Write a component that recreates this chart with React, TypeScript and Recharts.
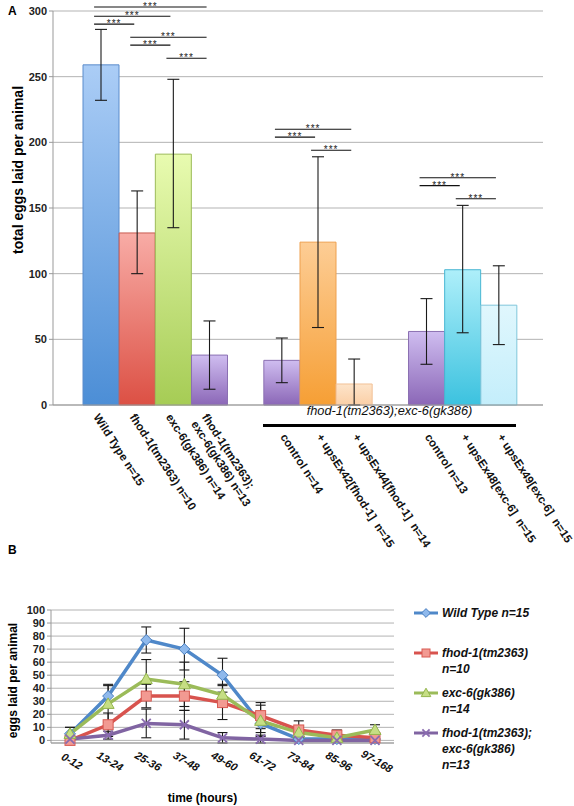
import React from "react";
import {
  Bar,
  BarChart,
  CartesianGrid,
  Cell,
  ErrorBar,
  Legend,
  Line,
  LineChart,
  ReferenceLine,
  XAxis,
  YAxis,
} from "recharts";

const FONT = "Arial, 'Liberation Sans', Helvetica, sans-serif";

// panel A: total eggs laid per animal (blank entries are the gaps between groups)
const strains = [
  "Wild Type n=15",
  "fhod-1(tm2363) n=10",
  "exc-6(gk386) n=14",
  "fhod-1(tm2363);\nexc-6(gk386) n=13",
  " ",
  "control n=14",
  "+ upsEx42[fhod-1]  n=15",
  "+ upsEx44[fhod-1]  n=14",
  "  ",
  "control n=13",
  "+ upsEx48[exc-6]  n=15",
  "+ upsEx49[exc-6]  n=15",
];
const totalEggs = [259, 131, 191, 38, null, 34, 124, 16, null, 56, 103, 76];
const eggsBelow = [27, 31, 56, 26, null, 17, 65, 16, null, 25, 48, 30];
const eggsAbove = [27, 32, 57, 26, null, 17, 65, 19, null, 25, 49, 30];
const totalTicks = [0, 50, 100, 150, 200, 250, 300];
const rescueTitle = "fhod-1(tm2363);exc-6(gk386)";

// significance brackets: index of first strain, index of second strain, height
const bracketFrom = [0, 0, 0, 1, 1, 2, 5, 5, 6, 9, 9, 10];
const bracketTo = [3, 2, 1, 3, 2, 3, 7, 6, 7, 11, 10, 11];
const bracketAt = [303, 296, 290, 280, 274, 264, 210, 204, 194, 173, 167, 157];
const bracketMark = "***";

const barTop = ["#abcdf6", "#f8aca6", "#e8fbb0", "#cfbdf0", "#fff", "#cfbdf0", "#fdcd95", "#fde4ca", "#fff", "#cfbdf0", "#aeeffa", "#e0f7fd"];
const barBottom = ["#4c8ed6", "#dc5044", "#a6cc55", "#8b67b7", "#fff", "#8b67b7", "#f69f35", "#fbcfa6", "#fff", "#8b67b7", "#3cc2df", "#c4eefb"];
const barEdge = ["#5a8ccc", "#c95a50", "#9cbb58", "#8b70b2", "#fff", "#8b70b2", "#eea04e", "#f2c197", "#fff", "#8b70b2", "#48b6d2", "#7fc6da"];

// panel B: eggs laid per animal over time
const hours = ["0-12", "13-24", "25-36", "37-48", "49-60", "61-72", "73-84", "85-96", "97-168"];
const wildType = [5, 34, 77, 70, 50, 13, 1, 1, 1];
const wildTypeSd = [5, 9, 10, 16, 13, 7, 1, 1, 1];
const fhod = [0, 12, 34, 34, 29, 19, 8, 4, 2];
const fhodSd = [0, 9, 9, 11, 13, 10, 7, 4, 2];
const exc = [5, 28, 47, 43, 35, 15, 6, 2, 8];
const excSd = [5, 14, 15, 17, 8, 12, 4, 2, 4];
const double = [1, 4, 13, 12, 2, 1, 0, 0, 0];
const doubleSd = [1, 3, 11, 11, 4, 3, 1, 1, 1];
const seriesNames = [
  "Wild Type n=15",
  "fhod-1(tm2363)\nn=10",
  "exc-6(gk386)\nn=14",
  "fhod-1(tm2363);\nexc-6(gk386)\nn=13",
];
const hourTicks = [0, 10, 20, 30, 40, 50, 60, 70, 80, 90, 100];

const lineColors = ["#4f88c9", "#d8534e", "#9bbb59", "#8064a2"];
const seriesKeys = ["wt", "fhod", "exc", "dbl"];

const totalData = strains.map((name, i) => ({
  name,
  eggs: totalEggs[i],
  spread: totalEggs[i] == null ? null : [eggsBelow[i], eggsAbove[i]],
}));

const timeData = hours.map((time, i) => ({
  time,
  wt: wildType[i],
  wtSd: wildTypeSd[i],
  fhod: fhod[i],
  fhodSd: fhodSd[i],
  exc: exc[i],
  excSd: excSd[i],
  dbl: double[i],
  dblSd: doubleSd[i],
}));

function StrainTick(props: any) {
  const { x, y, payload, index } = props;
  const lines = String(payload.value).split("\n");
  if (!lines[0].trim()) return null;
  const rescue = index >= 5;
  const dx = rescue ? -2 : -8;
  const dy = rescue ? 24 : 4;
  return (
    <g transform={`translate(${x + dx},${y + dy}) rotate(57)`}>
      <text
        fontSize={11.5}
        fontWeight="bold"
        fill="#111"
        fontFamily={FONT}
        style={{ whiteSpace: "pre" }}
      >
        {lines.map((l, i) => (
          <tspan key={i} x={0} dy={i ? 13 : 0}>
            {l}
          </tspan>
        ))}
      </text>
    </g>
  );
}

function TimeTick(props: any) {
  const { x, y, payload } = props;
  return (
    <g transform={`translate(${x + 2},${y + 10}) rotate(30)`}>
      <text
        textAnchor="middle"
        dy={4}
        fontSize={11}
        fontWeight="bold"
        fontStyle="italic"
        fill="#111"
        fontFamily={FONT}
      >
        {payload.value}
      </text>
    </g>
  );
}

function Marker({ kind, cx, cy, s = 1 }: { kind: number; cx: number; cy: number; s?: number }) {
  if (cx == null || cy == null) return null;
  if (kind === 0) {
    const r = 5.5 * s;
    return (
      <path
        d={`M${cx} ${cy - r}L${cx + r} ${cy}L${cx} ${cy + r}L${cx - r} ${cy}Z`}
        fill="#8fb9ec"
        stroke="#4a7fc0"
        strokeWidth={1}
      />
    );
  }
  if (kind === 1) {
    const r = 5 * s;
    return (
      <rect x={cx - r} y={cy - r} width={2 * r} height={2 * r} fill="#f29a92" stroke="#d85a52" strokeWidth={1} />
    );
  }
  if (kind === 2) {
    const r = 6 * s;
    return (
      <path
        d={`M${cx} ${cy - r}L${cx + r} ${cy + r * 0.75}L${cx - r} ${cy + r * 0.75}Z`}
        fill="#c6de84"
        stroke="#93b54d"
        strokeWidth={1}
      />
    );
  }
  const r = 4.5 * s;
  return (
    <g stroke="#8a6cb0" strokeWidth={1.8}>
      <line x1={cx - r} y1={cy - r} x2={cx + r} y2={cy + r} />
      <line x1={cx - r} y1={cy + r} x2={cx + r} y2={cy - r} />
    </g>
  );
}

// legend keeps the series order (recharts sorts its payload by name)
function GrowthLegend() {
  return (
    <div
      style={{
        fontFamily: FONT,
        fontSize: 12,
        fontWeight: "bold",
        fontStyle: "italic",
        lineHeight: "16px",
        color: "#111",
      }}
    >
      {seriesNames.map((name, i) => (
        <div key={i} style={{ display: "flex", height: 40 }}>
          <svg width={28} height={16} style={{ flex: "none" }}>
            <line x1={0} y1={8} x2={24} y2={8} stroke={lineColors[i]} strokeWidth={3} />
            <Marker kind={i} cx={12} cy={8} s={0.8} />
          </svg>
          <div style={{ whiteSpace: "pre" }}>{name}</div>
        </div>
      ))}
    </div>
  );
}

export default function App() {
  return (
    <div
      style={{
        position: "absolute",
        left: 0,
        top: 0,
        width: 574,
        height: 806,
        background: "#fff",
        fontFamily: FONT,
      }}
    >
      <div style={{ position: "absolute", left: 0, top: 0 }}>
        <BarChart
          width={574}
          height={560}
          data={totalData}
          margin={{ top: 11, right: 31, left: 0, bottom: 0 }}
          barCategoryGap={0}
        >
          <defs>
            {barTop.map((c, i) => (
              <linearGradient key={i} id={`bar${i}`} x1="0" y1="0" x2="0" y2="1">
                <stop offset="0%" stopColor={c} />
                <stop offset="100%" stopColor={barBottom[i]} />
              </linearGradient>
            ))}
          </defs>
          <CartesianGrid vertical={false} stroke="#b3b3b3" />
          <XAxis
            dataKey="name"
            interval={0}
            height={155}
            padding={{ left: 30, right: 26 }}
            axisLine={{ stroke: "#999" }}
            tickLine={false}
            tick={<StrainTick />}
          />
          <YAxis
            width={53}
            domain={[0, 300]}
            ticks={totalTicks}
            axisLine={{ stroke: "#999" }}
            tickLine={{ stroke: "#999" }}
            tickSize={4}
            tick={{ fontSize: 11, fontWeight: "bold", fill: "#222", fontFamily: FONT }}
            label={{
              value: "total eggs laid per animal",
              angle: -90,
              position: "center",
              dx: -8,
              dy: -38,
              style: { fontSize: 14, fontWeight: "bold", fill: "#000", fontFamily: FONT },
            }}
          />
          <Bar dataKey="eggs" isAnimationActive={false}>
            {totalData.map((_, i) => (
              <Cell key={i} fill={`url(#bar${i})`} stroke={barEdge[i]} strokeWidth={1} />
            ))}
            <ErrorBar dataKey="spread" width={6} stroke="#1a1a1a" strokeWidth={1.1} />
          </Bar>
          {bracketFrom.map((from, i) => (
            <ReferenceLine
              key={i}
              ifOverflow="visible"
              segment={[
                { x: strains[from], y: bracketAt[i] },
                { x: strains[bracketTo[i]], y: bracketAt[i] },
              ]}
              shape={(p: any) => (
                <g>
                  <line x1={p.x1 - 7} y1={p.y1} x2={p.x2 - 3} y2={p.y2} stroke="#111" strokeWidth={1.1} />
                  <text
                    x={(p.x1 + p.x2) / 2 - 5}
                    y={p.y1 + 3}
                    textAnchor="middle"
                    fontSize={10}
                    letterSpacing={1}
                    fill="#222"
                    fontFamily={FONT}
                  >
                    {bracketMark}
                  </text>
                </g>
              )}
            />
          ))}
        </BarChart>
      </div>

      <div style={{ position: "absolute", left: 8, top: 4, fontSize: 12, fontWeight: "bold" }}>A</div>
      <div
        style={{
          position: "absolute",
          left: 263,
          width: 253,
          top: 403,
          textAlign: "center",
          fontSize: 12.8,
          fontStyle: "italic",
          color: "#111",
          whiteSpace: "nowrap",
        }}
      >
        {rescueTitle}
      </div>
      <div style={{ position: "absolute", left: 263, width: 253, top: 424, height: 3, background: "#000" }} />

      <div style={{ position: "absolute", left: 8, top: 543, fontSize: 12, fontWeight: "bold" }}>B</div>

      <div style={{ position: "absolute", left: 0, top: 560 }}>
        <LineChart
          width={574}
          height={246}
          data={timeData}
          margin={{ top: 50, right: 180, left: 0, bottom: 0 }}
        >
          <CartesianGrid vertical={false} stroke="#b3b3b3" />
          <XAxis
            dataKey="time"
            interval={0}
            height={63}
            padding={{ left: 19, right: 19 }}
            axisLine={{ stroke: "#999" }}
            tickLine={false}
            tick={<TimeTick />}
            label={{
              value: "time (hours)",
              position: "insideBottom",
              offset: 4,
              dx: -20,
              style: { fontSize: 12, fontWeight: "bold", fill: "#000", fontFamily: FONT },
            }}
          />
          <YAxis
            width={51}
            domain={[0, 100]}
            ticks={hourTicks}
            interval={0}
            axisLine={{ stroke: "#999" }}
            tickLine={{ stroke: "#999" }}
            tickSize={4}
            tick={{ fontSize: 11, fontWeight: "bold", fill: "#222", fontFamily: FONT }}
            label={{
              value: "eggs laid per animal",
              angle: -90,
              position: "center",
              dx: -13,
              dy: 4,
              style: { fontSize: 12, fontWeight: "bold", fill: "#000", fontFamily: FONT },
            }}
          />
          <Legend
            layout="vertical"
            align="center"
            verticalAlign="middle"
            content={<GrowthLegend />}
            wrapperStyle={{ left: 414, top: 45, width: 160 }}
          />
          {seriesKeys.map((k, i) => (
            <Line
              key={k}
              dataKey={k}
              name={seriesNames[i]}
              stroke={lineColors[i]}
              strokeWidth={3.5}
              isAnimationActive={false}
              dot={(p: any) => <Marker key={`${k}${p.index}`} kind={i} cx={p.cx} cy={p.cy} />}
              activeDot={false}
            >
              <ErrorBar dataKey={`${k}Sd`} width={5} stroke="#1a1a1a" strokeWidth={1.1} />
            </Line>
          ))}
        </LineChart>
      </div>
    </div>
  );
}
